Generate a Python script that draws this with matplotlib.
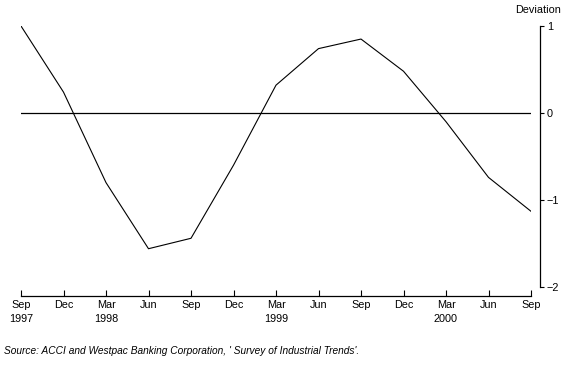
import matplotlib
matplotlib.use("Agg")
import matplotlib.pyplot as plt

plt.rcParams['font.family'] = ['Liberation Sans', 'DejaVu Sans']

quarters = ["Sep\n1997", "Dec", "Mar\n1998", "Jun", "Sep", "Dec", "Mar\n1999",
            "Jun", "Sep", "Dec", "Mar\n2000", "Jun", "Sep"]
deviation = [1.0, 0.24, -0.80, -1.56, -1.44, -0.60, 0.32, 0.74, 0.85, 0.48,
             -0.10, -0.74, -1.13]
y_ticks = [-2, -1, 0, 1]
y_labels = ["\u22122", "\u22121", "0", "1"]

W, H = 567, 378
fig = plt.figure(figsize=(W / 100, H / 100), dpi=100)
left, right, top, bottom = 21, 531, 26, 287
ax = fig.add_axes([left / W, 1 - bottom / H, (right - left) / W, (bottom - top) / H])

x = list(range(len(quarters)))
ax.plot(x, deviation, color="black", lw=0.8)
ax.axhline(0, color="black", lw=0.9)

ax.set_xlim(0, len(quarters) - 1)
ax.set_ylim(-2, 1)

for s in ["top", "left"]:
    ax.spines[s].set_visible(False)
ax.spines["right"].set_position(("outward", 6.5))
ax.spines["bottom"].set_position(("outward", 6.5))
ax.spines["right"].set_linewidth(0.9)
ax.spines["bottom"].set_linewidth(0.9)

ax.yaxis.tick_right()
ax.set_yticks(y_ticks)
ax.set_yticklabels(y_labels)
ax.tick_params(axis="y", direction="out", length=3, width=0.8, pad=2, labelsize=7.8)

ax.set_xticks(x)
ax.set_xticklabels(quarters, linespacing=1.45, va="top")
ax.tick_params(axis="x", direction="in", length=4, width=0.8, pad=3, labelsize=7.8)

fig.text(561 / W, 1 - 10 / H, "Deviation", ha="right", va="center", fontsize=7.8)
fig.text(4 / W, 1 - 351 / H,
         "Source: ACCI and Westpac Banking Corporation, ' Survey of Industrial Trends'.",
         ha="left", va="center", fontsize=7.3, style="italic")

fig.savefig("out.png", dpi=100)
